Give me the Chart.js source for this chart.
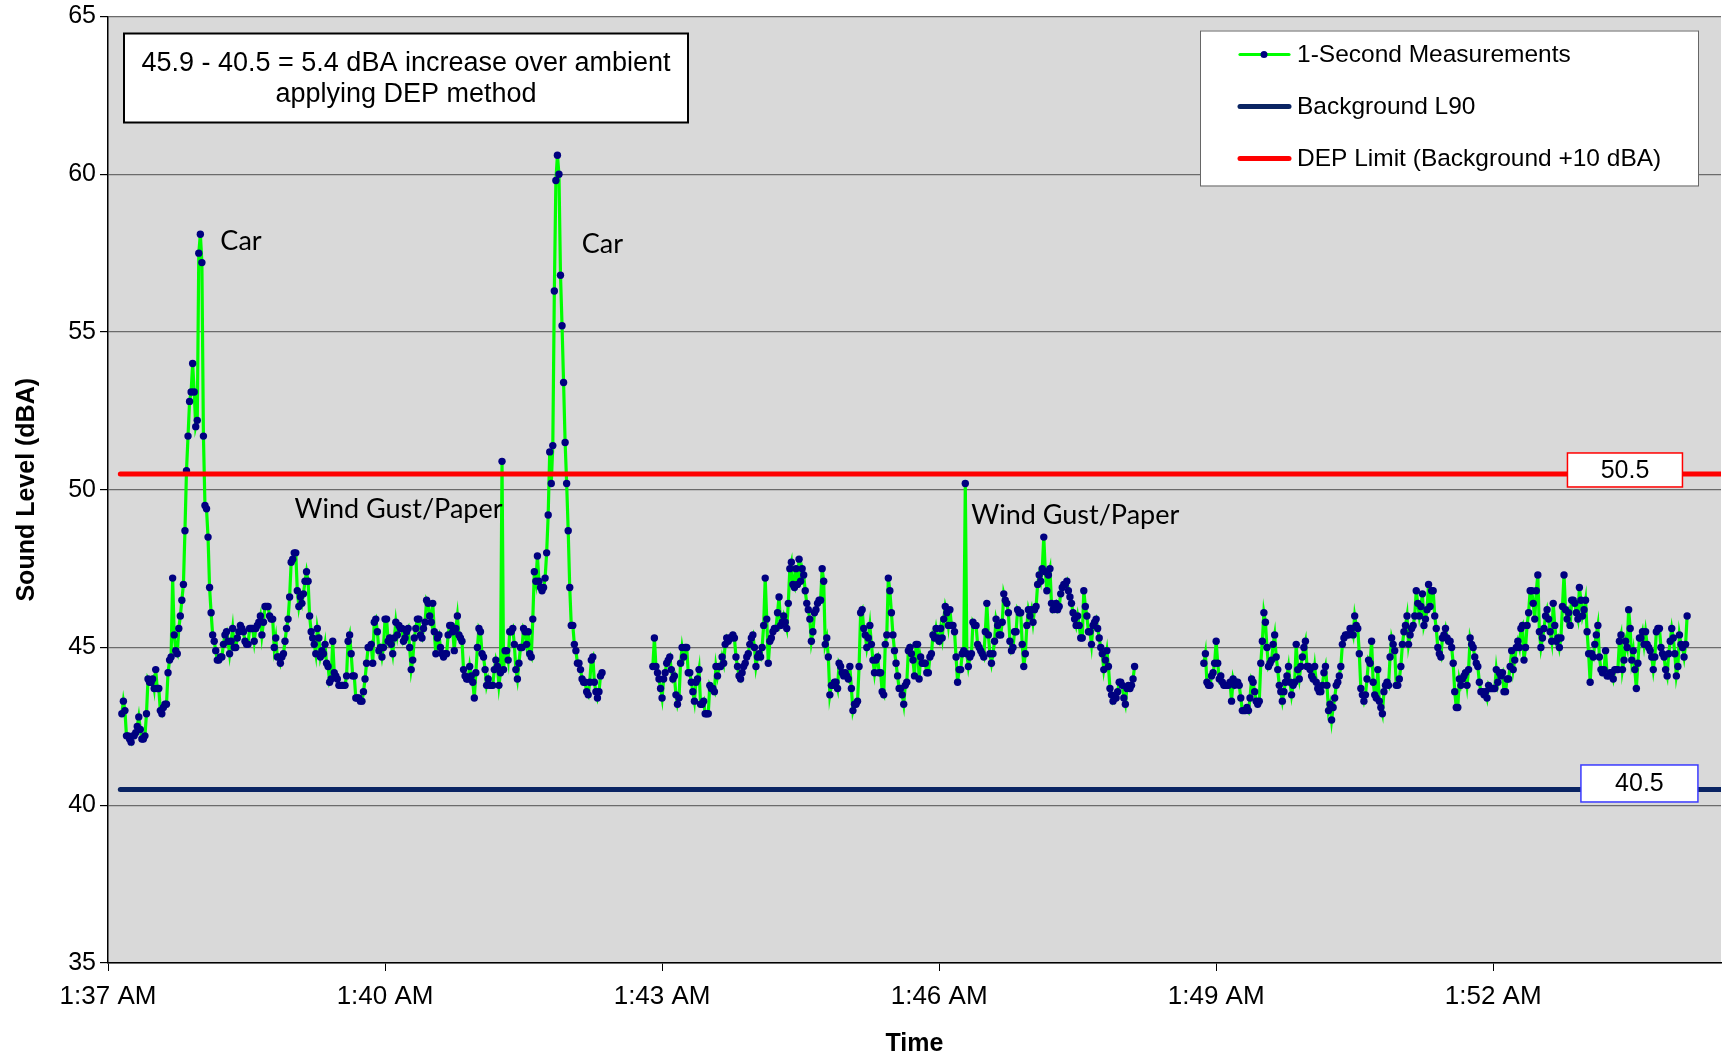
<!DOCTYPE html>
<html>
<head>
<meta charset="utf-8">
<title>Sound Level</title>
<script src="https://cdn.jsdelivr.net/npm/chart.js@4.4.1/dist/chart.umd.min.js"></script>
<style>
  html, body { margin: 0; padding: 0; background: #ffffff; }
  #wrap { width: 1725px; height: 1058px; }
</style>
</head>
<body>
<div id="wrap"><canvas id="soundChart" width="1725" height="1058"></canvas></div>
<script>
// time axis is in seconds after 1:37:00 AM
const tickSeconds = [0, 180, 360, 540, 720, 900];
const tickLabels = ['1:37 AM', '1:40 AM', '1:43 AM', '1:46 AM', '1:49 AM', '1:52 AM'];

// 1-second readings (dBA), three logged runs with dropouts between them
const seg1Start = 9;
const seg1 = [
  42.9, 43.3, 43.0, 42.2, 42.2, 42.1, 42.0, 42.2, 42.2, 42.3,
  42.5, 42.8, 42.4, 42.1, 42.1, 42.2, 42.9, 44.0, 43.9, 43.9,
  44.0, 43.7, 44.3, 43.7, 43.7, 43.0, 42.9, 43.1, 43.2, 43.2,
  44.2, 44.6, 44.7, 47.2, 45.4, 44.9, 44.8, 45.6, 46.0, 46.5,
  47.0, 48.7, 50.6, 51.7, 52.8, 53.1, 54.0, 53.1, 52.0, 52.2,
  57.5, 58.1, 57.2, 51.7, 49.5, 49.4, 48.5, 46.9, 46.1, 45.4,
  45.2, 44.9, 44.6, 44.6, 44.7, 44.7, 45.1, 45.4, 45.5, 45.2,
  44.8, 45.2, 45.6, 45.0, 45.0, 45.3, 45.5, 45.7, 45.6, 45.5,
  45.2, 45.1, 45.1, 45.6, 45.6, 45.6, 45.2, 45.6, 45.7, 45.8,
  46.0, 45.4, 45.8, 46.3, 46.3, 46.3, 46.0, 45.9, 45.9, 45.0,
  45.3, 44.7, 44.7, 44.5, 44.7, 44.8, 45.2, 45.6, 45.9, 46.6,
  47.7, 47.8, 48.0, 48.0, 46.8, 46.3, 46.6, 46.4, 46.7, 47.1,
  47.4, 47.1, 46.0, 45.5, 45.3, 45.1, 44.8, 45.6, 45.3, 44.7,
  44.9, 44.8, 45.1, 44.5, 44.4, 43.9, 44.0, 45.2, 44.2, 44.1,
  44.0, 43.8, 43.8, 43.8, 43.8, 43.8, 44.1, 45.2, 45.4, 44.8,
  44.1, 44.1, 43.4, 43.4, 43.4, 43.3, 43.3, 43.6, 44.0, 44.5,
  45.0, 45.0, 45.1, 44.5, 45.8, 45.9, 45.5, 44.9, 45.0, 44.7,
  45.0, 45.9, 45.9, 45.2, 45.3, 45.1, 44.8, 45.3, 45.8, 45.4,
  45.7, 45.6, 45.6, 45.2, 45.3, 45.5, 45.6, 45.0, 44.3, 44.6,
  45.3, 45.6, 45.9, 45.9, 45.4, 45.3, 45.6, 45.8, 46.5, 46.4,
  46.0, 45.8, 46.4, 45.5, 44.8, 45.3, 45.4, 45.0, 44.8, 44.7,
  44.8, 44.8, 45.4, 45.7, 45.7, 45.5, 44.9, 45.6, 46.0, 45.4,
  45.3, 45.2, 44.3, 44.1, 44.0, 44.0, 44.4, 44.1, 43.9, 43.4,
  44.2, 45.0, 45.6, 45.5, 44.8, 44.7, 44.3, 43.8, 44.0, 43.8,
  43.8, 43.8, 44.3, 44.6, 44.4, 43.8, 44.2, 50.9, 44.3, 44.9,
  44.9, 44.6, 45.5, 45.5, 45.6, 45.1, 44.3, 44.0, 44.5, 45.0,
  45.0, 45.6, 45.5, 45.1, 45.5, 44.8, 44.7, 45.9, 47.4, 47.1,
  47.9, 47.1, 46.9, 46.8, 46.9, 47.2, 48.0, 49.2, 51.2, 50.2,
  51.4, 56.3, 59.8, 60.6, 60.0, 56.8, 55.2, 53.4, 51.5, 50.2,
  48.7, 46.9, 45.7, 45.7, 45.1, 44.9, 44.5, 44.5, 44.3, 44.0,
  43.9, 43.9, 43.6, 43.5, 43.9, 44.6, 44.7, 43.9, 43.6, 43.4,
  43.6, 44.1, 44.2
];

const seg2Start = 354;
const seg2 = [
  44.4, 45.3, 44.4, 44.2, 44.0, 43.7, 43.4, 44.0, 44.2, 44.5,
  44.6, 44.7, 44.3, 44.0, 44.1, 43.5, 43.2, 43.4, 44.5, 45.0,
  44.7, 45.0, 45.0, 44.2, 44.2, 43.9, 43.6, 43.3, 43.9, 44.0, 44.3,
  43.2, 43.2, 43.3, 42.9, 42.9, 42.9, 43.8, 43.7, 43.7, 43.6, 44.4,
  44.1, 44.4, 44.4, 44.7, 44.5, 45.1, 45.3, 45.2, 45.3, 45.3, 45.4,
  45.3, 44.7, 44.4, 44.1, 44.0, 44.2, 44.4, 44.5, 44.7, 44.8, 45.1,
  45.3, 45.4, 45.0, 44.4, 44.7, 44.8, 44.7, 45.0, 45.7, 47.2,
  45.9, 44.5, 45.2, 45.3, 45.5, 45.6, 45.6, 46.1, 46.6, 45.7,
  45.8, 46.0, 45.8, 45.6, 46.4, 47.5, 47.7, 47.0, 46.9, 47.5,
  47.0, 47.8, 47.1, 47.5, 47.3, 46.8, 46.4, 46.2, 45.9, 45.2, 45.5,
  46.1, 46.2, 46.4, 46.5, 46.5, 47.5, 47.1, 45.1, 45.3, 44.7, 43.5,
  43.8, 43.8, 43.9, 43.9, 43.7, 44.5, 44.4, 44.2, 44.1, 44.2, 44.1,
  44.0, 44.4, 43.7, 43.0, 43.2, 43.2, 43.3, 44.4, 46.1, 46.2,
  45.6, 45.4, 45.0, 45.3, 45.7, 45.1, 44.6, 44.2, 44.6, 44.7, 44.2,
  44.2, 43.6, 43.5, 45.1, 45.4, 47.2, 46.8, 46.1, 45.4, 44.9,
  44.5, 44.1, 43.7, 43.7, 43.5, 43.2, 43.8, 43.9, 44.9, 45.0, 44.8,
  44.6, 44.1, 45.1, 45.1, 44.0, 44.7, 44.5, 44.5, 44.5, 44.2,
  44.2, 44.7, 44.8, 45.4, 45.3, 45.6, 45.3, 45.2, 45.6, 45.3, 45.9,
  46.3, 46.1, 45.7, 46.2, 45.7, 45.7, 45.5, 44.7, 43.9, 44.3,
  44.3, 44.8, 44.9, 50.2, 44.8, 44.4, 44.7, 44.8, 45.8, 45.7,
  45.7, 45.1, 45.0, 44.9, 44.8, 44.7, 45.5, 46.4, 45.4, 44.8,
  44.5, 44.8, 45.2, 45.9, 45.7, 45.4, 45.4, 45.8, 46.7, 46.5,
  46.4, 46.1, 45.2, 44.9, 45.0, 45.5, 45.5, 46.2, 46.1, 46.1,
  45.1, 44.4, 44.8, 45.7, 46.2, 46.0, 46.2, 45.8, 46.2, 46.3,
  47.0, 47.3, 47.1, 47.5, 48.5, 47.4, 46.8, 47.3, 47.5, 46.4,
  46.2, 46.3, 46.4, 46.2, 46.3, 46.7, 46.9, 47.0, 47.0, 47.1, 46.8,
  46.6, 46.4, 46.1, 45.9, 45.7, 46.0, 45.7, 45.3, 45.3, 46.8,
  46.3, 46.0, 45.5, 45.5, 45.1, 45.7, 45.8, 45.9, 45.6, 45.3, 45.0,
  44.8, 44.3, 44.6, 44.9, 44.4, 43.7, 43.5, 43.3, 43.4, 43.4,
  43.6, 43.9, 43.9, 43.8, 43.4, 43.2, 43.7, 43.8, 43.7, 43.8,
  44.0, 44.4
];

const seg3Start = 712;
const seg3 = [
  44.5, 44.8, 43.9, 43.8, 43.8, 44.1, 44.2, 44.5, 45.2, 44.5,
  44.0, 44.1, 43.9, 43.8, 43.8, 43.8, 43.8, 43.9, 43.3, 44.0, 43.8,
  43.9, 43.9, 43.8, 43.4, 43.0, 43.0, 43.0, 43.1, 43.0, 43.4, 44.0,
  43.9, 43.6, 43.3, 43.2, 43.3, 44.5, 45.2, 46.1, 45.8, 45.0,
  44.4, 44.5, 44.6, 45.1, 45.4, 44.7, 44.3, 43.8, 43.6, 43.3, 43.6,
  43.9, 44.1, 44.4, 43.9, 43.5, 43.8, 43.9, 45.1, 44.3, 44.0, 44.4,
  44.7, 45.0, 45.2, 44.4, 44.4, 44.3, 44.1, 44.0, 44.4, 43.9, 43.7,
  43.6, 43.6, 43.8, 44.2, 44.4, 43.8, 43.0, 43.2, 42.7, 43.1,
  43.4, 43.8, 43.9, 44.1, 44.4, 45.1, 45.3, 45.4, 45.4, 45.4, 45.6,
  45.6, 45.4, 46.0, 45.7, 45.6, 44.8, 43.7, 43.5, 43.3, 43.5, 44.0,
  44.6, 44.5, 45.2, 43.9, 43.5, 43.4, 44.3, 43.3, 43.1, 42.9,
  43.6, 43.8, 43.9, 43.8, 44.7, 45.3, 45.1, 44.9, 43.8, 43.8,
  44.0, 44.4, 45.1, 45.5, 45.7, 46.0, 45.1, 45.4, 45.6, 45.7,
  46.0, 46.8, 46.4, 46.0, 46.3, 46.7, 45.7, 45.9, 46.2, 47.0, 46.3,
  46.8, 46.8, 46.0, 45.6, 45.0, 44.8, 44.7, 45.3, 45.4, 45.6, 45.3, 45.2,
  45.2, 45.0, 44.5, 43.6, 43.1, 43.1, 44.0, 43.8, 44.0, 44.1, 44.2,
  43.8, 44.3, 45.3, 45.1, 45.0, 44.7, 44.5, 44.4, 43.9, 43.6,
  43.6, 43.5, 43.6, 43.4, 43.8, 43.7, 43.7, 43.7, 43.7, 44.3, 43.9,
  44.2, 44.1, 44.2, 43.6, 43.6, 44.0, 44.0, 44.4, 44.9, 44.3, 44.6,
  45.0, 45.2, 45.0, 45.6, 45.7, 44.6, 45.0, 45.7, 46.1, 46.8,
  46.8, 46.4, 45.9, 46.8, 47.3, 45.5, 45.0, 45.3, 45.6, 46.0,
  46.2, 45.9, 45.5, 45.2, 46.4, 45.7, 45.2, 45.3, 45.0, 45.3, 46.3,
  47.3, 46.2, 45.9, 46.1, 45.7, 46.5, 46.5, 46.4, 46.1, 45.9,
  46.9, 46.5, 46.0, 46.2, 46.5, 45.5, 44.8, 43.9, 44.8, 44.7,
  45.1, 45.4, 45.7, 44.7, 44.3, 44.2, 44.3, 44.9, 44.1, 44.1, 44.2,
  44.2, 44.0, 44.3, 44.3, 44.3, 45.2, 45.4, 44.3, 44.6, 45.2,
  45.0, 46.2, 45.6, 44.6, 44.9, 44.3, 43.7, 44.5, 45.3, 45.3,
  45.5, 45.1, 45.5, 45.1, 45.0, 44.9, 44.7, 44.3, 44.7, 45.5, 45.6,
  45.6, 45.0, 44.8, 44.7, 44.3, 44.1, 44.8, 45.2, 45.6, 45.3, 44.8,
  44.1, 44.4, 45.4, 45.1, 45.0, 44.7, 45.1, 46.0
];

// reference levels
const backgroundL90 = 40.5;
const depLimit = 50.5;
const levelFrom = 8;
const levelTo = 1100;

const seriesLabels = ['1-Second Measurements', 'Background L90', 'DEP Limit (Background +10 dBA)'];
const noteLines = ['45.9 - 40.5 = 5.4 dBA increase over ambient', 'applying DEP method'];
const eventNotes = ['Car', 'Car', 'Wind Gust/Paper', 'Wind Gust/Paper'];

function toPoints(start, values) {
  return values.map(function(v, i) { return { x: start + i, y: v }; });
}

const measurements = [].concat(
  toPoints(seg1Start, seg1),
  [{ x: seg1Start + seg1.length, y: null }],
  toPoints(seg2Start, seg2),
  [{ x: seg2Start + seg2.length, y: null }],
  toPoints(seg3Start, seg3)
);

const GREEN = '#00ff00';
const DOT = '#000080';
const NAVY = '#0a2463';
const RED = '#ff0000';
const SANS = '"Liberation Sans", Arial, sans-serif';

// grey plot area
const plotBackground = {
  id: 'plotBackground',
  beforeDraw(chart) {
    const { ctx, chartArea } = chart;
    ctx.save();
    ctx.fillStyle = '#ffffff';
    ctx.fillRect(0, 0, chart.width, chart.height);
    ctx.fillStyle = '#d9d9d9';
    ctx.fillRect(chartArea.left, chartArea.top, chartArea.right - chartArea.left, chartArea.bottom - chartArea.top);
    ctx.restore();
  }
};

// text box, event notes, level tags and legend drawn on top of the lines
const overlays = {
  id: 'overlays',
  afterDatasetsDraw(chart) {
    const { ctx, chartArea } = chart;
    const xs = chart.scales.x;
    const ys = chart.scales.y;
    ctx.save();

    // method note box
    const bx = chartArea.left + 16, by = chartArea.top + 17, bw = 564, bh = 89;
    ctx.fillStyle = '#ffffff';
    ctx.fillRect(bx, by, bw, bh);
    ctx.strokeStyle = '#000000';
    ctx.lineWidth = 2;
    ctx.strokeRect(bx, by, bw, bh);
    ctx.fillStyle = '#000000';
    ctx.font = '27px ' + SANS;
    ctx.textAlign = 'center';
    ctx.textBaseline = 'middle';
    ctx.fillText(noteLines[0], bx + bw / 2, by + 30);
    ctx.fillText(noteLines[1], bx + bw / 2, by + 61);

    // event notes placed in data units
    const notePos = [[73, 57.87], [307.8, 57.78], [121.2, 49.39], [560.9, 49.2]];
    ctx.font = '27px Lato, "Open Sans", sans-serif';
    ctx.textAlign = 'left';
    eventNotes.forEach(function(t, i) {
      ctx.fillText(t, xs.getPixelForValue(notePos[i][0]), ys.getPixelForValue(notePos[i][1]));
    });

    // level tags
    const tags = [
      { value: depLimit, sec: 985.6, color: RED, w: 115, h: 34, dy: -4 },
      { value: backgroundL90, sec: 995, color: '#3a3aff', w: 117, h: 37, dy: -6 }
    ];
    ctx.font = '25px ' + SANS;
    ctx.textAlign = 'center';
    tags.forEach(function(t) {
      const cx = xs.getPixelForValue(t.sec);
      const cy = ys.getPixelForValue(t.value) + t.dy;
      ctx.fillStyle = '#ffffff';
      ctx.fillRect(cx - t.w / 2, cy - t.h / 2, t.w, t.h);
      ctx.strokeStyle = t.color;
      ctx.lineWidth = 1.5;
      ctx.strokeRect(cx - t.w / 2, cy - t.h / 2, t.w, t.h);
      ctx.fillStyle = '#000000';
      ctx.fillText(t.value.toFixed(1), cx, cy + 1);
    });

    // legend
    const lx = chartArea.right - 521, ly = chartArea.top + 14, lw = 498, lh = 155;
    ctx.fillStyle = '#ffffff';
    ctx.fillRect(lx, ly, lw, lh);
    ctx.strokeStyle = '#666666';
    ctx.lineWidth = 1;
    ctx.strokeRect(lx + 0.5, ly + 0.5, lw, lh);
    ctx.font = '24.5px ' + SANS;
    ctx.textAlign = 'left';
    chart.data.datasets.forEach(function(ds, i) {
      const ry = ly + 24 + i * 52;
      ctx.beginPath();
      ctx.moveTo(lx + 40, ry);
      ctx.lineTo(lx + 89, ry);
      ctx.strokeStyle = ds.borderColor;
      ctx.lineWidth = ds.borderWidth;
      ctx.lineCap = 'round';
      ctx.stroke();
      if (ds.pointRadius > 0) {
        ctx.beginPath();
        ctx.arc(lx + 64, ry, 3.5, 0, Math.PI * 2);
        ctx.fillStyle = ds.pointBackgroundColor;
        ctx.fill();
      }
      ctx.fillStyle = '#000000';
      ctx.fillText(ds.label, lx + 97, ry + 1);
    });

    ctx.restore();
  }
};

const canvas = document.getElementById('soundChart');
const ctx = canvas.getContext('2d');

const config = {
  type: 'line',
  data: {
    datasets: [{
      label: seriesLabels[0],
      data: measurements,
      borderColor: GREEN,
      borderWidth: 3.2,
      pointRadius: 3.7,
      pointBorderWidth: 0,
      pointBackgroundColor: DOT,
      spanGaps: false,
      tension: 0,
      order: 3
    }, {
      label: seriesLabels[1],
      data: [{ x: levelFrom, y: backgroundL90 }, { x: levelTo, y: backgroundL90 }],
      borderColor: NAVY,
      borderWidth: 5,
      borderCapStyle: 'round',
      pointRadius: 0,
      order: 2
    }, {
      label: seriesLabels[2],
      data: [{ x: levelFrom, y: depLimit }, { x: levelTo, y: depLimit }],
      borderColor: RED,
      borderWidth: 5,
      borderCapStyle: 'round',
      pointRadius: 0,
      order: 1
    }]
  },
  options: {
    responsive: false,
    animation: false,
    layout: { padding: { top: 15, right: 0, left: 0, bottom: 0 } },
    plugins: {
      legend: { display: false },
      tooltip: { enabled: false }
    },
    scales: {
      x: {
        type: 'linear',
        min: 0,
        max: 1048,
        afterBuildTicks: function(scale) {
          scale.ticks = tickSeconds.map(function(v) { return { value: v }; });
        },
        afterFit: function(scale) { scale.height = 95; },
        ticks: {
          color: '#000000',
          font: { family: SANS, size: 26 },
          padding: 10,
          maxRotation: 0,
          callback: function(value) {
            const i = tickSeconds.indexOf(value);
            return i >= 0 ? tickLabels[i] : '';
          }
        },
        grid: { drawOnChartArea: false, tickLength: 8, tickColor: '#000000' },
        border: { color: '#000000', width: 1.5 },
        title: {
          display: true,
          text: 'Time',
          color: '#000000',
          font: { family: SANS, size: 25, weight: 'bold', lineHeight: 1.1 },
          padding: { top: 0, bottom: 0 }
        }
      },
      y: {
        min: 35,
        max: 65,
        afterFit: function(scale) { scale.width = 108; },
        ticks: {
          stepSize: 5,
          color: '#000000',
          font: { family: SANS, size: 25, lineHeight: 1 },
          padding: 4
        },
        grid: { color: '#6b6b6b', lineWidth: 1.2, tickLength: 8, tickColor: '#000000' },
        border: { color: '#000000', width: 1.5 },
        title: {
          display: true,
          text: 'Sound Level (dBA)',
          color: '#000000',
          font: { family: SANS, size: 25, weight: 'bold' },
          padding: { top: 12, bottom: 0 }
        }
      }
    }
  },
  plugins: [plotBackground, overlays]
};

const soundChart = new Chart(ctx, config);
</script>
</body>
</html>
